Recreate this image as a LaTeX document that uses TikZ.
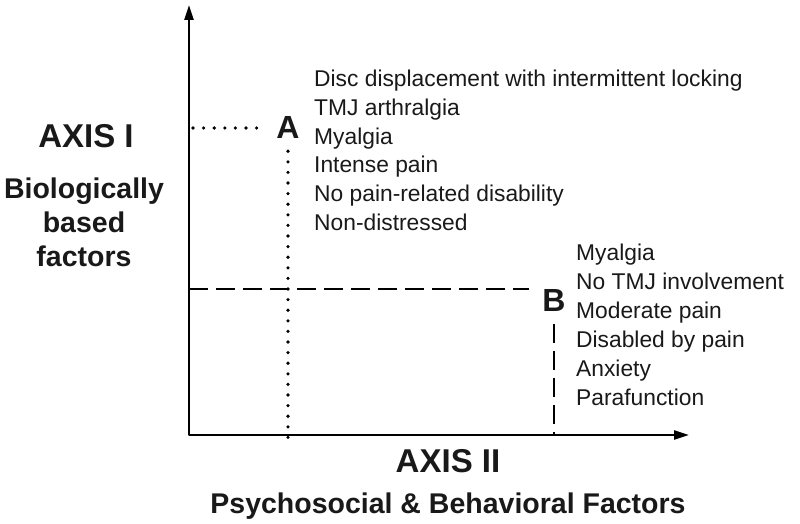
\documentclass[tikz,border=0pt]{standalone}
\usepackage{fontspec}
\setmainfont{Liberation Sans}
\usetikzlibrary{arrows.meta}
\definecolor{ink}{RGB}{25,25,25}
\begin{document}
\begin{tikzpicture}[x=1pt,y=-1pt,
  axisline/.style={line width=2.3pt, line join=round, {Triangle[length=15pt,width=9pt]}-{Triangle[length=15pt,width=9pt]}},
  item/.style={anchor=base west, inner sep=0pt, text=ink, font=\fontsize{22.8}{26}\selectfont},
  point/.style={inner sep=13pt, text=ink, font=\bfseries\fontsize{32}{36}\selectfont},
  big/.style={anchor=base, inner sep=0pt, text=ink, font=\bfseries\fontsize{33}{38}\selectfont},
  sub/.style={anchor=base, inner sep=0pt, text=ink, font=\bfseries\fontsize{28.5}{32}\selectfont},
  dotline/.style={line width=3.6pt, line cap=round, dash pattern=on 0pt off 10.6pt},
  dashline/.style={line width=2pt, dash pattern=on 19pt off 8pt}]
\useasboundingbox (0,0) rectangle (800,524);
% axes
\coordinate (O) at (189,435);
\coordinate (ytop) at (189,5);
\coordinate (xend) at (689,435);
\draw[axisline] (ytop) -- (O) -- (xend);
% points
\node[point] (A) at (288,127) {A};
\node[point] (B) at (554,300) {B};
\coordinate (aL) at (193,128);
\coordinate (bL) at (189,289);
\draw[dotline] (aL) -- (aL -| A.west);
\draw[dotline] (A.south) -- ([yshift=-5pt]A.south |- O);
\draw[dashline] (bL) -- (bL -| B.west);
\draw[dashline] (B.south) -- (B.south |- O);
% lists
\foreach \t [count=\i] in {Disc displacement with intermittent locking, TMJ arthralgia, Myalgia, Intense pain, No pain-related disability, Non-distressed}
  \node[item] (a\i) at (314,{87+28.6*(\i-1)}) {\t};
\foreach \t [count=\i] in {Myalgia, No TMJ involvement, Moderate pain, Disabled by pain, Anxiety, Parafunction}
  \node[item] (b\i) at (576,{260+29*(\i-1)}) {\t};
% axis labels
\node[big] (ax1) at (86,147) {AXIS I};
\node[sub] (bio1) at (84,198) {Biologically};
\node[sub] (bio2) at (84,232) {based};
\node[sub] (bio3) at (84,266) {factors};
\node[big] (ax2) at (448,472) {AXIS II};
\node[sub] (psy) at (448,513) {Psychosocial \& Behavioral Factors};
\end{tikzpicture}
\end{document}
